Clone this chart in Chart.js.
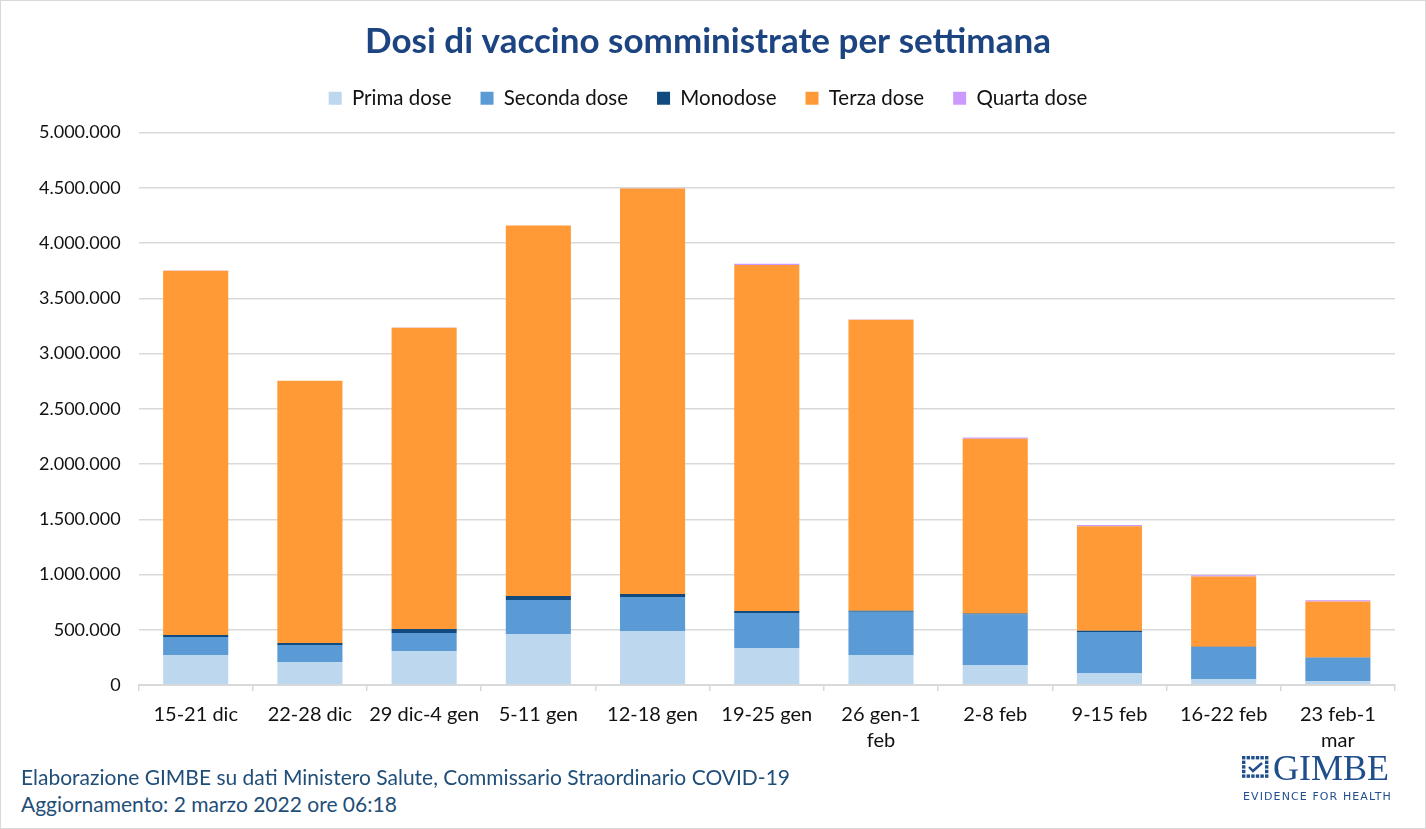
<!DOCTYPE html>
<html>
<head>
<meta charset="utf-8">
<script src="https://cdn.jsdelivr.net/npm/chart.js@4.4.1/dist/chart.umd.min.js"></script>
<style>
    body { margin: 0; background: #fff; }
    #wrap { position: relative; width: 1426px; height: 829px; box-sizing: border-box; border: 1px solid #d9d9d9; overflow: hidden; }
    #chartBox { position: absolute; left: 0; top: 0; width: 1424px; height: 764px; }
    .footer { position: absolute; left: 20px; font-family: Lato, sans-serif; font-size: 21px; color: #1f4e79; white-space: nowrap; }
    #logo { position: absolute; left: 1241px; top: 755px; color: #1f4e8c; }
    #logo .name { position: absolute; left: 31px; top: -9px; font-family: "Liberation Serif", serif; font-size: 36px; white-space: nowrap; }
    #logo .sub { position: absolute; left: 1px; top: 34px; font-family: "DejaVu Sans", sans-serif; font-size: 11px; letter-spacing: 1.1px; white-space: nowrap; }
</style>
</head>
<body>
<div id="wrap">
    <div id="chartBox"><canvas id="myChart"></canvas></div>
    <div class="footer" style="top: 763px;">Elaborazione GIMBE su dati Ministero Salute, Commissario Straordinario COVID-19</div>
    <div class="footer" style="top: 790px;">Aggiornamento: 2 marzo 2022 ore 06:18</div>
    <div id="logo">
        <svg width="28" height="24" id="grid"></svg>
        <div class="name">GIMBE</div>
        <div class="sub">EVIDENCE FOR HEALTH</div>
    </div>
</div>
<script>
// Weekly labels
const weeks = ['15-21 dic', '22-28 dic', '29 dic-4 gen', '5-11 gen', '12-18 gen', '19-25 gen',
    ['26 gen-1', 'feb'], '2-8 feb', '9-15 feb', '16-22 feb', ['23 feb-1', 'mar']];

// Doses per week
const primaDose   = [272000, 208000, 308000, 462000, 489000, 335000, 272000, 181000, 109000, 54000, 36000];
const secondaDose = [163000, 154000, 163000, 308000, 308000, 317000, 392000, 456000, 371000, 290000, 211000];
const monodose    = [18000, 18000, 36000, 36000, 27000, 18000, 9000, 9000, 12000, 3000, 2000];
const terzaDose   = [3297000, 2374000, 2727000, 3352000, 3669000, 3131000, 2633000, 1582000, 945000, 635000, 506000];
const quartaDose  = [500, 500, 500, 1000, 1500, 12000, 1500, 12000, 10000, 11000, 11000];

const yTicks = [0, 500000, 1000000, 1500000, 2000000, 2500000, 3000000, 3500000, 4000000, 4500000, 5000000];

// small grid icon of the logo
const svg = document.getElementById('grid');
let cells = '';
for (let r = 0; r < 5; r++) {
    for (let c = 0; c < 6; c++) {
        if (r >= 1 && r <= 3 && c >= 1 && c <= 4) continue;
        cells += `<rect x="${c * 4.6}" y="${r * 4.6}" width="3.4" height="3.4" fill="#1f4e8c"/>`;
    }
}
cells += '<polyline points="7,11 11,15 20,7" fill="none" stroke="#1f4e8c" stroke-width="2.4"/>';
svg.innerHTML = cells;

function formatNum(v) {
    return String(v).replace(/\B(?=(\d{3})+(?!\d))/g, '.');
}

// extra room between the legend and the plot
const legendMargin = {
    id: 'legendMargin',
    beforeInit(chart) {
        const fit = chart.legend.fit;
        chart.legend.fit = function () {
            fit.bind(chart.legend)();
            this.height += 14;
        };
    }
};

const font = 'Lato, sans-serif';
const ctx = document.getElementById('myChart');

const chart = new Chart(ctx, {
    type: 'bar',
    data: {
        labels: weeks,
        datasets: [
            { label: 'Prima dose', data: primaDose, backgroundColor: '#bdd7ee' },
            { label: 'Seconda dose', data: secondaDose, backgroundColor: '#5b9bd5' },
            { label: 'Monodose', data: monodose, backgroundColor: '#114a7f' },
            { label: 'Terza dose', data: terzaDose, backgroundColor: '#ff9a36' },
            { label: 'Quarta dose', data: quartaDose, backgroundColor: '#cc99ff' }
        ]
    },
    plugins: [legendMargin],
    options: {
        responsive: true,
        maintainAspectRatio: false,
        animation: false,
        layout: { padding: { left: 20, right: 30, top: 23, bottom: 0 } },
        datasets: {
            bar: { categoryPercentage: 1, barPercentage: 0.57 }
        },
        plugins: {
            title: {
                display: true,
                text: 'Dosi di vaccino somministrate per settimana',
                color: '#1c4480',
                font: { family: font, size: 35, weight: 'bold', lineHeight: 1 },
                padding: { top: 0, bottom: 0 }
            },
            legend: {
                labels: {
                    boxWidth: 13,
                    boxHeight: 13,
                    padding: 29,
                    color: '#111',
                    font: { family: font, size: 20.5 }
                }
            },
            tooltip: { enabled: false }
        },
        scales: {
            x: {
                stacked: true,
                grid: { display: true, drawOnChartArea: false, drawTicks: true, tickLength: 6, color: '#d9d9d9', lineWidth: 1.5, offset: true },
                border: { display: true, color: '#d9d9d9', width: 2 },
                ticks: { color: '#111', font: { family: font, size: 20, lineHeight: 1.3 }, maxRotation: 0, autoSkip: false, padding: 11 }
            },
            y: {
                stacked: true,
                min: 0,
                max: 5000000,
                afterBuildTicks: axis => { axis.ticks = yTicks.map(v => ({ value: v })); },
                grid: { color: '#d9d9d9', lineWidth: 1.5, drawTicks: false },
                border: { display: false },
                ticks: { color: '#111', font: { family: font, size: 18 }, padding: 18, callback: v => formatNum(v) }
            }
        }
    }
});
</script>
</body>
</html>
